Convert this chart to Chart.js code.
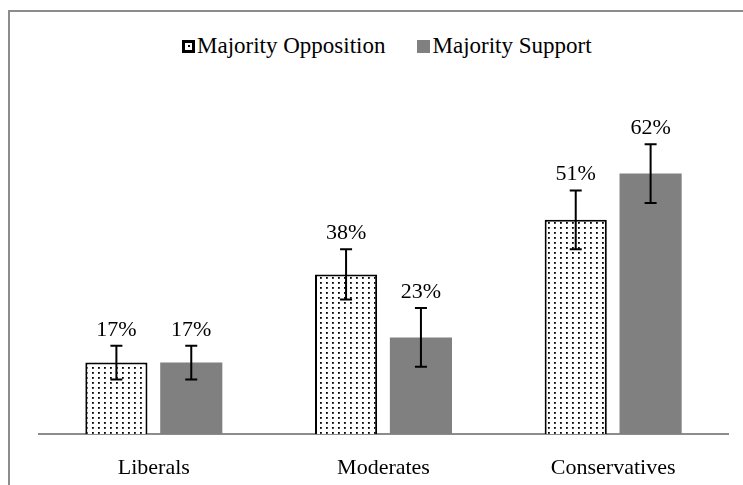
<!DOCTYPE html>
<html>
<head>
<meta charset="utf-8">
<script src="https://cdn.jsdelivr.net/npm/chart.js@4/dist/chart.umd.min.js"></script>
<style>
  html, body { margin: 0; padding: 0; background: #fff; }
  #wrap { position: relative; width: 743px; height: 485px; overflow: hidden; }
  #frame {
    position: absolute; left: 8px; top: 10px; width: 800px; height: 600px;
    border: 2px solid #8c8c8c; box-sizing: border-box;
  }
  #legend {
    position: absolute; left: 182px; top: 33px;
    display: flex; gap: 32px;
    font-family: 'Liberation Serif', 'Times New Roman', serif; font-size: 23px; color: #000;
  }
  .item { display: flex; align-items: center; }
  .box { width: 13px; height: 13px; margin-right: 2px; box-sizing: border-box; }
  .box.opp { border: 3px solid #000; background: #fff; position: relative; }
  .box.opp::after { content: ''; position: absolute; left: 2.5px; top: 2.5px; width: 2px; height: 2px; background: #000; }
  .box.sup { background: #808080; }
  canvas { position: absolute; left: 0; top: 0; }
</style>
</head>
<body>
<div id="wrap">
  <div id="frame"></div>
  <div id="legend">
    <div class="item"><span class="box opp"></span><span>Majority Opposition</span></div>
    <div class="item"><span class="box sup"></span><span>Majority Support</span></div>
  </div>
  <canvas id="chart" width="743" height="485"></canvas>
</div>
<script>
// Chart data
const categories = ['Liberals', 'Moderates', 'Conservatives']
const oppositionValues = [17, 38, 51]
const supportValues = [17, 23, 62]
const oppositionErrors = [4, 6, 7]
const supportErrors = [4, 7, 7]

// Dotted fill pattern for the opposition bars
function makeDotPattern(ctx) {
  const tile = document.createElement('canvas')
  tile.width = 6
  tile.height = 5
  const t = tile.getContext('2d')
  t.fillStyle = '#fff'
  t.fillRect(0, 0, 6, 5)
  t.fillStyle = '#000'
  t.fillRect(2, 2, 1.8, 1.8)
  return ctx.createPattern(tile, 'repeat')
}

// Draw error bars and value labels above them
const errorBarPlugin = {
  id: 'errorBars',
  afterDatasetsDraw(chart) {
    const { ctx, scales } = chart
    ctx.save()
    chart.data.datasets.forEach((ds, i) => {
      const meta = chart.getDatasetMeta(i)
      meta.data.forEach((bar, j) => {
        const v = ds.data[j]
        const e = ds.errors[j]
        const x = bar.x
        const top = scales.y.getPixelForValue(v + e)
        const bottom = scales.y.getPixelForValue(v - e)
        ctx.strokeStyle = '#000'
        ctx.lineWidth = 2
        ctx.beginPath()
        ctx.moveTo(x, top)
        ctx.lineTo(x, bottom)
        ctx.moveTo(x - 6, top)
        ctx.lineTo(x + 6, top)
        ctx.moveTo(x - 6, bottom)
        ctx.lineTo(x + 6, bottom)
        ctx.stroke()
        ctx.fillStyle = '#000'
        ctx.font = "22px 'Liberation Serif'"
        ctx.textAlign = 'center'
        ctx.textBaseline = 'middle'
        ctx.fillText(v + '%', x, top - 16)
      })
    })
    ctx.restore()
  }
}

const ctx = document.getElementById('chart').getContext('2d')

new Chart(ctx, {
  type: 'bar',
  data: {
    labels: categories,
    datasets: [
      {
        label: 'Majority Opposition',
        data: oppositionValues,
        errors: oppositionErrors,
        backgroundColor: makeDotPattern(ctx),
        borderColor: '#000',
        borderWidth: 2,
        barPercentage: 0.83,
        categoryPercentage: 0.652
      },
      {
        label: 'Majority Support',
        data: supportValues,
        errors: supportErrors,
        backgroundColor: '#808080',
        borderWidth: 0,
        barPercentage: 0.83,
        categoryPercentage: 0.652
      }
    ]
  },
  options: {
    responsive: false,
    animation: false,
    layout: { padding: { top: 98, left: 39, right: 15, bottom: 0 } },
    plugins: {
      legend: { display: false },
      tooltip: { enabled: false }
    },
    scales: {
      x: {
        afterFit(scale) {
          scale.height = 51
        },
        grid: { display: false, drawTicks: false },
        border: { display: true, color: '#8c8c8c', width: 2 },
        ticks: {
          color: '#000',
          padding: 21,
          font: { family: 'Liberation Serif', size: 22 }
        }
      },
      y: {
        display: false,
        min: 0,
        max: 80
      }
    }
  },
  plugins: [errorBarPlugin]
})
</script>
</body>
</html>
